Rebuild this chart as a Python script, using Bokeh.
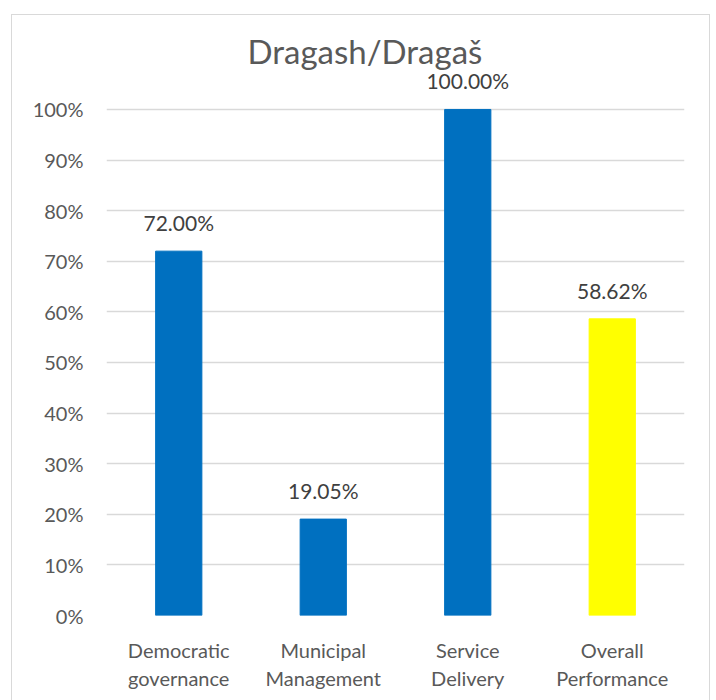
from bokeh.plotting import figure
from bokeh.models import ColumnDataSource, FixedTicker, Range1d, Title
from bokeh.embed import file_html
from bokeh.resources import INLINE
from bokeh.core.properties import value

categories = ["Democratic\ngovernance", "Municipal\nManagement", "Service\nDelivery", "Overall\nPerformance"]
scores = [0.72, 0.1905, 1.00, 0.5862]
labels = ["72.00%", "19.05%", "100.00%", "58.62%"]
colors = ["#0070C0", "#0070C0", "#0070C0", "#FFFF00"]
y_ticks = [0.0, 0.1, 0.2, 0.3, 0.4, 0.5, 0.6, 0.7, 0.8, 0.9, 1.0]
y_tick_labels = {t: f"{int(round(t * 100))}%" for t in y_ticks}

FONT = "Lato"
GREY = "#595959"

src = ColumnDataSource(dict(cat=categories, val=scores, lab=labels, col=colors))

p = figure(x_range=categories, y_range=Range1d(0, 1.075),
           width=699, height=686, output_backend="svg", toolbar_location=None,
           min_border_left=94, min_border_right=27, min_border_top=56, min_border_bottom=86)
p.styles = {"border-top": "1px solid #D9D9D9", "border-left": "1px solid #D9D9D9",
            "border-right": "1px solid #D9D9D9", "box-sizing": "border-box",
            "margin-left": "11px", "margin-top": "14px"}
p.outline_line_color = None

t = Title(text="Dragash/Dragaš", align="left", text_font=FONT, text_font_size="33px",
          text_color=GREY, text_font_style="normal", standoff=2, offset=141)
p.add_layout(t, "above")

p.vbar(x="cat", top="val", width=0.32, color="col", source=src)
p.text(x="cat", y="val", text="lab", source=src, text_align="center", text_baseline="bottom",
       y_offset=-16, text_font=value(FONT), text_font_size="21px", text_color="#404040")

p.yaxis.ticker = FixedTicker(ticks=y_ticks)
p.yaxis.major_label_overrides = y_tick_labels
p.yaxis.axis_line_color = None
p.yaxis.major_tick_line_color = None
p.yaxis.minor_tick_line_color = None
p.yaxis.major_label_standoff = 17
p.yaxis.major_label_text_font = FONT
p.yaxis.major_label_text_font_size = "20px"
p.yaxis.major_label_text_color = GREY

p.xaxis.axis_line_color = None
p.xaxis.major_tick_line_color = None
p.xaxis.major_label_standoff = 16
p.xaxis.major_label_text_font = FONT
p.xaxis.major_label_text_font_size = "20px"
p.xaxis.major_label_text_color = GREY
p.xaxis.major_label_text_line_height = 1.2

p.xgrid.grid_line_color = None
p.ygrid.grid_line_color = "#D9D9D9"
p.ygrid.grid_line_width = 1.5

open("out.html", "w").write(file_html(p, INLINE))
